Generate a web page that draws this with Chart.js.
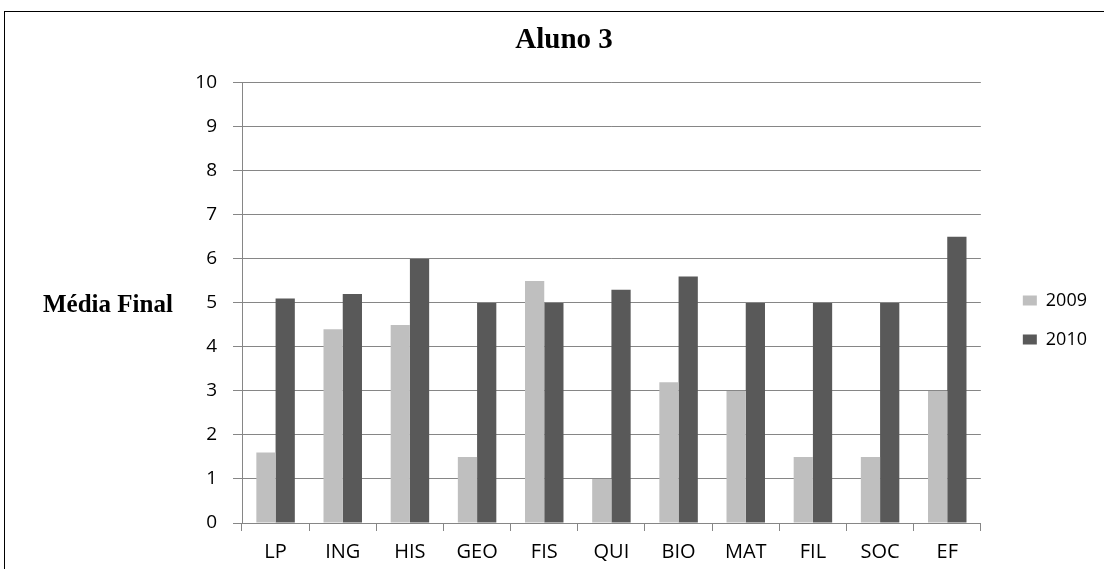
<!DOCTYPE html>
<html>
<head>
<meta charset="utf-8">
<script src="https://cdn.jsdelivr.net/npm/chart.js@4/dist/chart.umd.min.js"></script>
<style>
  html, body { margin: 0; padding: 0; background: #fff; overflow: hidden; }
  #frame { position: absolute; left: 4px; top: 11px; width: 1200px; height: 700px; border: 1px solid #000; }
  #c { position: absolute; left: 0; top: 0; }
</style>
</head>
<body>
<div id="frame"></div>
<canvas id="c" width="1104" height="569"></canvas>
<script>
const categories = ['LP', 'ING', 'HIS', 'GEO', 'FIS', 'QUI', 'BIO', 'MAT', 'FIL', 'SOC', 'EF'];
const values2009 = [1.6, 4.4, 4.5, 1.5, 5.5, 1.0, 3.2, 3.0, 1.5, 1.5, 3.0];
const values2010 = [5.1, 5.2, 6.0, 5.0, 5.0, 5.3, 5.6, 5.0, 5.0, 5.0, 6.5];
const yTicks = [0, 1, 2, 3, 4, 5, 6, 7, 8, 9, 10];
const chartTitle = 'Aluno 3';
const yTitle = 'Média Final';

const gridColor = '#868686';

const yTitlePlugin = {
  id: 'yTitleHorizontal',
  afterDraw(chart) {
    const ctx = chart.ctx;
    ctx.save();
    ctx.font = 'bold 25px "Liberation Serif", "Times New Roman", serif';
    ctx.fillStyle = '#000';
    ctx.textAlign = 'left';
    ctx.textBaseline = 'alphabetic';
    ctx.fillText(yTitle, 43, 312);
    ctx.restore();
  }
};

new Chart(document.getElementById('c'), {
  type: 'bar',
  data: {
    labels: categories,
    datasets: [
      { label: '2009', data: values2009, backgroundColor: '#BFBFBF', borderWidth: 0 },
      { label: '2010', data: values2010, backgroundColor: '#595959', borderWidth: 0 }
    ]
  },
  options: {
    responsive: false,
    animation: false,
    devicePixelRatio: 1,
    layout: { padding: { left: 31, right: 7, top: 0, bottom: 0 } },
    datasets: { bar: { categoryPercentage: 0.573, barPercentage: 1.0 } },
    plugins: {
      title: {
        display: true,
        text: chartTitle,
        color: '#000',
        font: { family: '"Liberation Serif", "Times New Roman", serif', size: 29, weight: 'bold' },
        padding: { top: 23, bottom: 25 }
      },
      legend: {
        position: 'right',
        title: {
          display: true,
          text: ' ',
          font: { size: 10 },
          padding: 29.5
        },
        labels: {
          boxWidth: 14,
          boxHeight: 10,
          padding: 21,
          color: '#000',
          font: { family: '"Open Sans", sans-serif', size: 18 }
        }
      },
      tooltip: { enabled: false }
    },
    scales: {
      x: {
        grid: {
          display: true,
          drawOnChartArea: false,
          drawTicks: true,
          tickLength: 8,
          color: gridColor,
          lineWidth: 1
        },
        border: { display: true, color: gridColor, width: 1 },
        ticks: {
          color: '#000',
          padding: 9,
          font: { family: '"Open Sans", sans-serif', size: 20 }
        },
        afterFit(s) { s.height = 46; }
      },
      y: {
        min: 0,
        max: 10,
        afterBuildTicks(s) { s.ticks = yTicks.map(v => ({ value: v })); },
        grid: {
          color: gridColor,
          lineWidth: 1,
          tickLength: 9
        },
        border: { display: true, color: gridColor, width: 1 },
        ticks: {
          color: '#000',
          padding: 16,
          font: { family: '"Open Sans", sans-serif', size: 19 }
        },
        afterFit(s) { s.width = 211; }
      },
      spacer: {
        position: 'right',
        display: true,
        grid: { display: false, drawOnChartArea: false },
        border: { display: false },
        ticks: { display: false },
        afterFit(s) { s.width = 21; }
      }
    }
  },
  plugins: [yTitlePlugin]
});
</script>
</body>
</html>
